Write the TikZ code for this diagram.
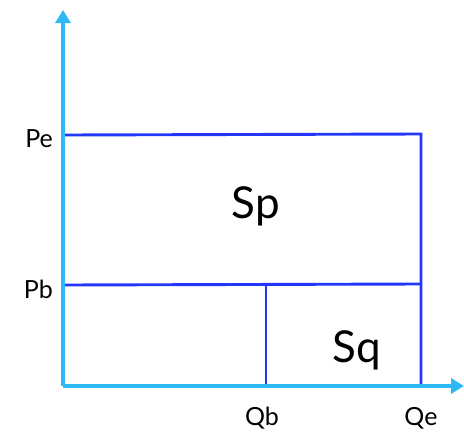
\documentclass[tikz,border=0pt]{standalone}
\usepackage{fontspec}
\setmainfont{Lato}
\usetikzlibrary{positioning,arrows.meta}
\definecolor{axiscolor}{RGB}{45,185,245}
\definecolor{linecolor}{RGB}{35,55,250}

\begin{document}
\begin{tikzpicture}[x=1pt, y=-1pt,
  axis/.style={draw=axiscolor, line width=4.2pt, -{Triangle[length=13pt, width=15pt]}},
  bound/.style={draw=linecolor, line width=2.9pt},
  tick/.style={font=\fontsize{25}{28}\selectfont, inner sep=0pt},
  area/.style={font=\fontsize{44}{48}\selectfont, inner sep=0pt},
]
\useasboundingbox (0,0) rectangle (464,432);

% corners
\coordinate (o) at (63,386);
\coordinate (ytop) at (63,10);
\coordinate (xend) at (464,386);
\coordinate (pe_l) at (63,135);
\coordinate (pe_r) at (421,134);
\coordinate (pb_l) at (63,285);
\coordinate (pb_r) at (421,284);
\coordinate (qe) at (421,386);
\coordinate (qb_t) at (266,285);
\coordinate (qb) at (266,386);

% boxes
\draw[bound] (pe_l) -- (pe_r) -- (qe);
\draw[bound] (pb_l) -- (pb_r);
\draw[bound] (qb_t) -- (qb);

% axes
\draw[axis] (o) -- (ytop);
\draw[axis] (o) -- (xend);

% labels
\node[tick, anchor=east] (pe) at (53,139) {Pe};
\node[tick, anchor=east] (pb) at (53,289) {Pb};
\node[tick] (qblab) at (262,418) {Qb};
\node[tick] (qelab) at (421,418) {Qe};
\node[area] (sp) at (256,206) {Sp};
\node[area] (sq) at (357,350) {Sq};

\end{tikzpicture}
\end{document}
